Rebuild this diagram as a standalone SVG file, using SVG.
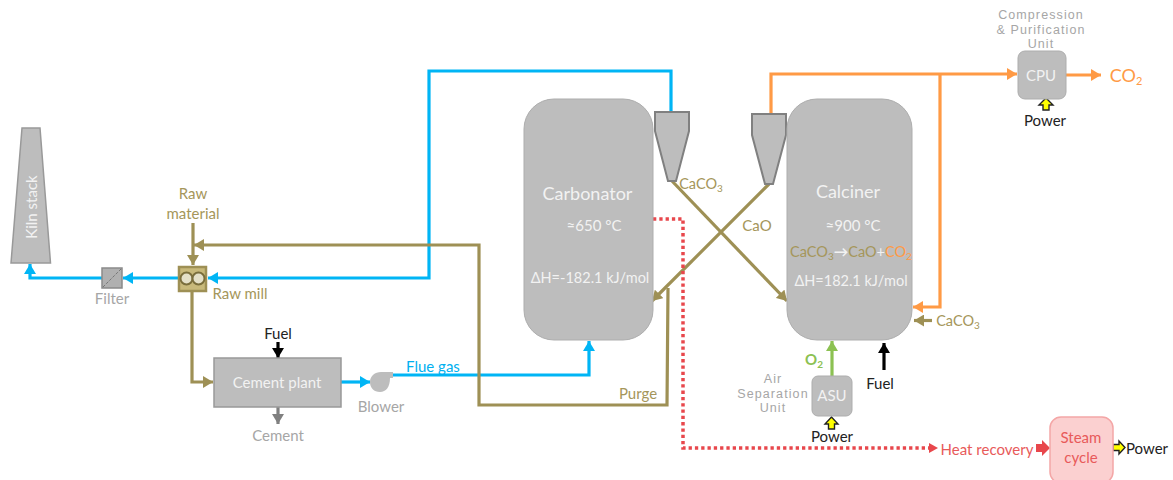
<svg xmlns="http://www.w3.org/2000/svg" width="1173" height="480" viewBox="0 0 1173 480">
<style>
text{font-family:Lato,"Open Sans","Noto Sans",sans-serif;font-size:15px;text-anchor:middle}
.w{fill:#f2f2f2}.t{fill:#a5965a}.g{fill:#a6a6a6}.k{fill:#222}.b{fill:#00b0f0}.o{fill:#ff9a45}.r{fill:#e85a5a}
text.tight{font-family:"Liberation Sans",Arial,sans-serif;font-size:12.500px;letter-spacing:1.100px}
.box{fill:#bdbdbd;stroke:#adadad;stroke-width:1}
.sq{fill:#bdbdbd;stroke:#999;stroke-width:1.500}
.cy{fill:#bdbdbd;stroke:#808080;stroke-width:2}
.l{fill:none;stroke-linejoin:miter}
.lb{stroke:#00b5f5;stroke-width:3.2}.lt{stroke:#9e9055;stroke-width:3.2}.lo{stroke:#ff9a45;stroke-width:3.2}
.ly{fill:#ffff00;stroke:#222;stroke-width:1.4}
</style>
<defs>
<marker id="ab" markerUnits="userSpaceOnUse" markerWidth="12" markerHeight="12" refX="10" refY="6" orient="auto"><path d="M0 0L10 6L0 12z" fill="#00b5f5"/></marker>
<marker id="at" markerUnits="userSpaceOnUse" markerWidth="12" markerHeight="12" refX="10" refY="6" orient="auto"><path d="M0 0L10 6L0 12z" fill="#9e9055"/></marker>
<marker id="ao" markerUnits="userSpaceOnUse" markerWidth="12" markerHeight="12" refX="10" refY="6" orient="auto"><path d="M0 0L10 6L0 12z" fill="#ff9a45"/></marker>
<marker id="ag" markerUnits="userSpaceOnUse" markerWidth="12" markerHeight="12" refX="10" refY="6" orient="auto"><path d="M0 0L10 6L0 12z" fill="#8cc152"/></marker>
<marker id="ak" markerUnits="userSpaceOnUse" markerWidth="12" markerHeight="12" refX="10" refY="6" orient="auto"><path d="M0 0L10 6L0 12z" fill="#000"/></marker>
<marker id="ay" markerUnits="userSpaceOnUse" markerWidth="12" markerHeight="12" refX="10" refY="6" orient="auto"><path d="M0 0L10 6L0 12z" fill="#808080"/></marker>
</defs>
<g id="connectors" class="l">
<path class="l lb" d="M671 111V71H429V278H208" marker-end="url(#ab)"/>
<path class="l lb" d="M178 278H123" marker-end="url(#ab)"/>
<path class="l lb" d="M102 278H30V264" marker-end="url(#ab)"/>
<path class="l lb" d="M341 382H370" marker-end="url(#ab)"/>
<path class="l lb" d="M391 375H589V341" marker-end="url(#ab)"/>
<path class="l lt" d="M193 223V265" marker-end="url(#at)"/>
<path class="l lt" d="M192 292V382H213" marker-end="url(#at)"/>
<path class="l lt" d="M668 288L667 405H479V245H194" marker-end="url(#at)"/>
<path class="l lt" d="M672 181L787 301" marker-end="url(#at)"/>
<path class="l lt" d="M769 184L652 301" marker-end="url(#at)"/>
<path class="l lt" d="M932 320.500H914" marker-end="url(#at)"/>
<path class="l lo" d="M771 114V74H1017" marker-end="url(#ao)"/>
<path class="l lo" d="M940 74V307H913" marker-end="url(#ao)"/>
<path class="l lo" d="M1066 75H1101" marker-end="url(#ao)"/>
<path class="l" stroke="#8cc152" stroke-width="3.2" d="M832 376V341" marker-end="url(#ag)"/>
<path class="l" stroke="#000" stroke-width="3.2" d="M884 370V343" marker-end="url(#ak)"/>
<path class="l" stroke="#000" stroke-width="3.2" d="M278 342V358" marker-end="url(#ak)"/>
<path class="l" stroke="#808080" stroke-width="3.2" d="M278 407V424" marker-end="url(#ay)"/>
<path class="l" stroke="#e8474c" stroke-width="3.5" stroke-dasharray="3.300 3" d="M653 219H683V448H930"/>
<path d="M929 443L938 448L929 453z" fill="#e8474c"/>
<path d="M1036 444H1042V440L1050 448L1042 456V452H1036z" fill="#e8474c"/>
<path class="ly" d="M1043 110V105H1039L1046 98L1053 105H1049V110z"/>
<path class="ly" d="M828.500 429V424H825L831.500 417L838 424H834.500V429z"/>
<path class="ly" d="M1113 444.500H1119V441L1125 447.500L1119 454V450.500H1113z"/>
</g>
<g id="kiln-stack"><path class="sq" d="M22 128H40L50.500 263H11z"/><text class="w" transform="translate(37 207) rotate(-90)">Kiln stack</text></g>
<g id="raw-material-label"><text class="t" x="193" y="199">Raw<tspan x="193" dy="20">material</tspan></text></g>
<g id="filter"><rect x="102" y="268" width="20" height="20" fill="#b0b0b0" stroke="#8a8a8a" stroke-width="1.500"/><path d="M103 287L121 269" stroke="#777" stroke-width="1" stroke-dasharray="3 1.500"/><text class="g" x="112" y="304">Filter</text></g>
<g id="raw-mill"><rect x="179" y="267" width="27" height="24" fill="#c8b97a" stroke="#9e9055" stroke-width="2.500"/><circle cx="186.500" cy="278.500" r="6" fill="#e4e0c8" stroke="#7a6e3c" stroke-width="2"/><circle cx="198.500" cy="278.500" r="6" fill="#e4e0c8" stroke="#7a6e3c" stroke-width="2"/><text class="t" x="240" y="299">Raw mill</text></g>
<g id="cement-plant"><rect class="sq" x="214" y="358" width="127" height="49"/><text class="w" x="277" y="388">Cement plant</text><text class="k" x="278" y="339">Fuel</text><text class="g" x="278" y="441">Cement</text></g>
<g id="blower"><path d="M370 382C370 376 375 372 381 372H393V378H390C390 387 386 392 380 392C374 392 370 388 370 382z" fill="#bdbdbd"/><text class="g" x="381" y="412">Blower</text><text class="b" x="433" y="372">Flue gas</text></g>
<g id="carbonator"><rect class="box" x="524" y="99" width="129" height="241" rx="30"/><text class="w" x="587.500" y="200" style="font-size:18px">Carbonator</text><text class="w" x="594" y="231">≈650 °C</text><text class="w" x="590" y="283" style="font-size:14.500px">ΔH=-182.1 kJ/mol</text></g>
<g id="cyclone-left"><path class="cy" d="M655 112H689V131L676 181H668L655 131z"/><text class="t" x="701" y="189" style="font-size:14.500px">CaCO<tspan font-size="10" dy="3">3</tspan></text></g>
<g id="cyclone-right"><path class="cy" d="M752 114H786V135L773 184H765L752 135z"/><text class="t" x="757" y="231">CaO</text></g>
<g id="calciner"><rect class="box" x="787" y="99" width="125" height="241" rx="30"/><text class="w" x="848" y="198" style="font-size:18px">Calciner</text><text class="w" x="853" y="231">≈900 °C</text><text x="851" y="257" style="font-size:14.500px"><tspan class="t">CaCO</tspan><tspan class="t" font-size="10" dy="3">3</tspan><tspan class="w" dy="-3" font-weight="700">→</tspan><tspan class="t">CaO</tspan><tspan class="w">+</tspan><tspan class="o">CO</tspan><tspan class="o" font-size="10" dy="3">2</tspan></text><text class="w" x="851" y="286" style="font-size:14.500px">ΔH=182.1 kJ/mol</text></g>
<g id="caco3-feed"><text class="t" x="958" y="326" style="font-size:14.500px">CaCO<tspan font-size="10" dy="3">3</tspan></text></g>
<g id="cpu"><rect class="box" x="1018" y="51" width="48" height="48" rx="7"/><text class="w" x="1041" y="81">CPU</text><text class="g tight" x="1041" y="19">Compression</text><text class="g tight" x="1041" y="33.500">&amp; Purification</text><text class="g tight" x="1041" y="48">Unit</text><text class="k" x="1045" y="126">Power</text><text class="o" x="1126" y="82" style="font-size:18px">CO<tspan font-size="11" dy="3">2</tspan></text></g>
<g id="asu"><rect class="box" x="812" y="376" width="40" height="40" rx="6"/><text class="w" x="832" y="401">ASU</text><text class="g tight" x="773" y="383">Air</text><text class="g tight" x="773" y="397.500">Separation</text><text class="g tight" x="773" y="412">Unit</text><text x="814" y="365" fill="#8cc152" style="font-weight:700">O<tspan font-size="10" dy="3">2</tspan></text><text class="k" x="832" y="442">Power</text><text class="k" x="880" y="389">Fuel</text></g>
<g id="steam-cycle"><text class="r" x="987" y="454.500">Heat recovery</text><rect x="1050" y="417" width="63" height="66" rx="11" fill="#fbd0d0" stroke="#f4a6a6" stroke-width="1.500"/><text class="r" x="1081" y="443">Steam<tspan x="1081" dy="20">cycle</tspan></text><text class="k" x="1147" y="454">Power</text></g>
<g id="purge"><text class="t" x="638" y="399">Purge</text></g>
</svg>
